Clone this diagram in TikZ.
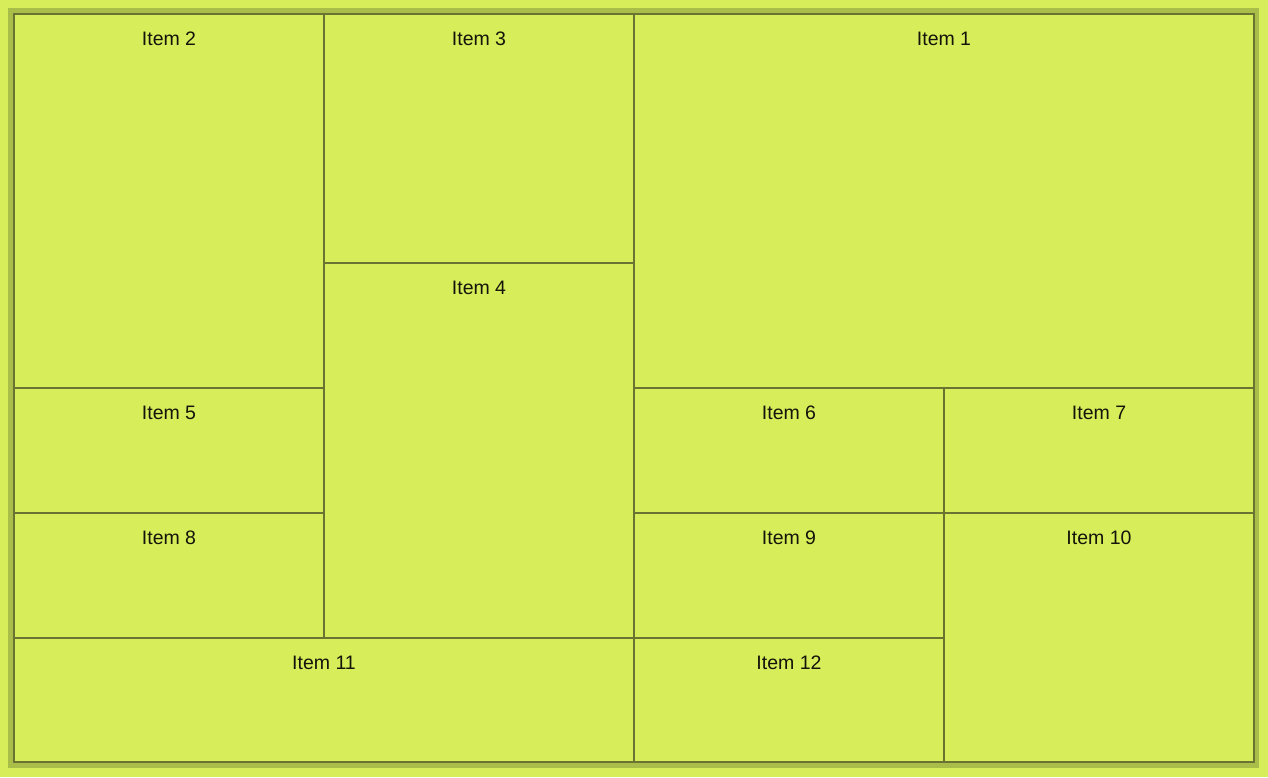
\documentclass[tikz,border=0pt]{standalone}
\usepackage{fontspec}
\setmainfont{Liberation Sans}
\definecolor{bgc}{RGB}{216,237,90}
\definecolor{framec}{RGB}{168,190,72}
\definecolor{linec}{RGB}{107,115,51}
\definecolor{txtc}{RGB}{20,20,10}
\begin{document}
\begin{tikzpicture}[x=1pt,y=-1pt,
  cell/.style={draw=linec,line width=2pt,fill=bgc,rectangle,inner sep=0pt,outer sep=0pt,anchor=north west},
  lbl/.style={anchor=base,inner sep=0pt,font=\fontsize{19.5}{22}\selectfont,text=txtc,yshift=-31.5pt}]
\fill[bgc] (0,0) rectangle (1268,777);
\useasboundingbox (0,0) rectangle (1268,777);
\fill[framec] (8,8) rectangle (1259,768);
\fill[bgc] (13,13) rectangle (1254,763);
% cells: x at 14,324,634,944,1254 ; y at 14,263,388,513,638,763
\node[cell,minimum width=310pt,minimum height=374pt] (c2) at (14,14) {};
\node[cell,minimum width=310pt,minimum height=249pt] (c3) at (324,14) {};
\node[cell,minimum width=620pt,minimum height=374pt] (c1) at (634,14) {};
\node[cell,minimum width=310pt,minimum height=375pt] (c4) at (324,263) {};
\node[cell,minimum width=310pt,minimum height=125pt] (c5) at (14,388) {};
\node[cell,minimum width=310pt,minimum height=125pt] (c6) at (634,388) {};
\node[cell,minimum width=310pt,minimum height=125pt] (c7) at (944,388) {};
\node[cell,minimum width=310pt,minimum height=125pt] (c8) at (14,513) {};
\node[cell,minimum width=310pt,minimum height=125pt] (c9) at (634,513) {};
\node[cell,minimum width=310pt,minimum height=249pt] (c10) at (944,513) {};
\node[cell,minimum width=620pt,minimum height=124pt] (c11) at (14,638) {};
\node[cell,minimum width=310pt,minimum height=124pt] (c12) at (634,638) {};
\node[lbl] (l1) at (c1.north) {Item 1};
\node[lbl] (l2) at (c2.north) {Item 2};
\node[lbl] (l3) at (c3.north) {Item 3};
\node[lbl] (l4) at (c4.north) {Item 4};
\node[lbl] (l5) at (c5.north) {Item 5};
\node[lbl] (l6) at (c6.north) {Item 6};
\node[lbl] (l7) at (c7.north) {Item 7};
\node[lbl] (l8) at (c8.north) {Item 8};
\node[lbl] (l9) at (c9.north) {Item 9};
\node[lbl] (l10) at (c10.north) {Item 10};
\node[lbl] (l11) at (c11.north) {Item 11};
\node[lbl] (l12) at (c12.north) {Item 12};
\end{tikzpicture}
\end{document}
